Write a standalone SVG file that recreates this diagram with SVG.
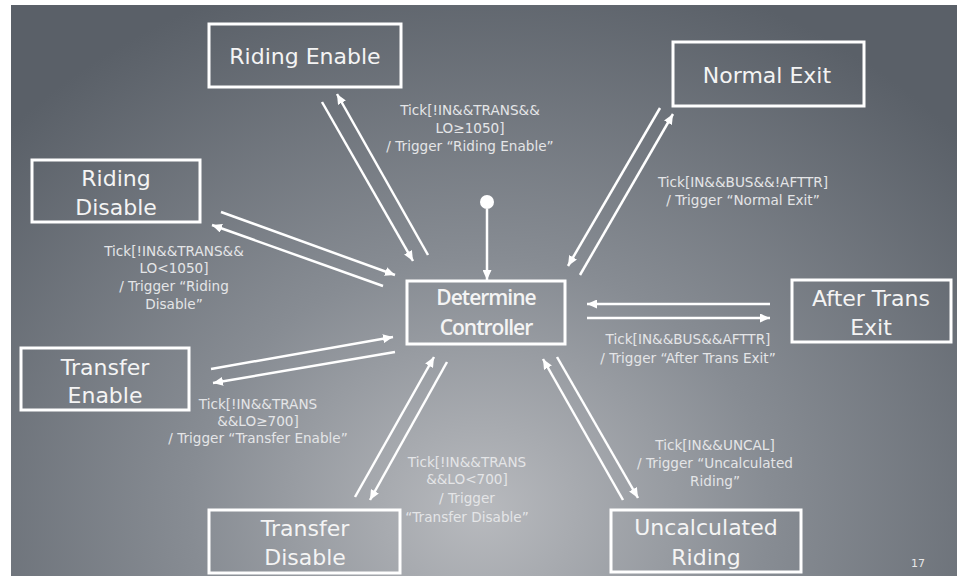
<svg xmlns="http://www.w3.org/2000/svg" width="957" height="576" viewBox="0 0 957 576">
<defs>
<radialGradient id="bg" gradientUnits="userSpaceOnUse" cx="480" cy="510" r="560" gradientTransform="translate(480 510) scale(1.15 1) translate(-480 -510)">
<stop offset="0" stop-color="#b8babe"/>
<stop offset="0.45" stop-color="#878c93"/>
<stop offset="1" stop-color="#5a6068"/>
</radialGradient>
<marker id="ah" markerUnits="userSpaceOnUse" markerWidth="11" markerHeight="9" refX="10" refY="4.5" orient="auto">
<path d="M0,0 L10,4.5 L0,9 z" fill="#ffffff"/>
</marker>
<style>
.box{fill:none;stroke:#ffffff;stroke-width:3}
.nt{font-family:"DejaVu Sans","Open Sans",sans-serif;font-size:22px;fill:#f4f4f4;text-anchor:middle}
.ct{font-family:"Open Sans","Noto Sans","DejaVu Sans",sans-serif;font-size:21px;font-weight:600;letter-spacing:-1px;fill:#f4f4f4;text-anchor:middle}
.lb{font-family:"DejaVu Sans","Open Sans",sans-serif;font-size:13.6px;fill:#e4e5e7;text-anchor:middle}
.cn line{stroke:#ffffff;stroke-width:2.5;marker-end:url(#ah)}
</style>
</defs>
<rect width="957" height="576" fill="#ffffff"/>
<rect x="11" y="5" width="946" height="571" fill="url(#bg)"/>

<g id="riding-enable"><rect class="box" x="209" y="24" width="192" height="63"/><text class="nt" x="305" y="64">Riding Enable</text></g>
<g id="riding-disable"><rect class="box" x="32" y="160" width="168" height="62"/><text class="nt" x="116" y="186">Riding</text><text class="nt" x="116" y="215">Disable</text></g>
<g id="transfer-enable"><rect class="box" x="21" y="348" width="168" height="62"/><text class="nt" x="105" y="375">Transfer</text><text class="nt" x="105" y="403">Enable</text></g>
<g id="transfer-disable"><rect class="box" x="209" y="510" width="191" height="63"/><text class="nt" x="305" y="536">Transfer</text><text class="nt" x="305" y="565">Disable</text></g>
<g id="determine-controller"><rect class="box" x="407" y="281" width="158" height="63"/><text class="ct" x="486" y="305">Determine</text><text class="ct" x="486" y="335">Controller</text></g>
<g id="normal-exit"><rect class="box" x="673" y="42" width="191" height="64"/><text class="nt" x="767" y="83">Normal Exit</text></g>
<g id="after-trans-exit"><rect class="box" x="792" y="280" width="159" height="62"/><text class="nt" x="871" y="306">After Trans</text><text class="nt" x="871" y="335">Exit</text></g>
<g id="uncalculated-riding"><rect class="box" x="611" y="510" width="190" height="62"/><text class="nt" x="706" y="535">Uncalculated</text><text class="nt" x="706" y="565">Riding</text></g>
<g id="initial"><circle cx="487" cy="202" r="7" fill="#ffffff"/></g>

<g id="connectors" class="cn">
<line x1="487" y1="209" x2="487" y2="280"/>
<line x1="322" y1="102" x2="413" y2="261"/>
<line x1="428" y1="255" x2="337" y2="94"/>
<line x1="221" y1="212" x2="395" y2="275"/>
<line x1="383" y1="286" x2="212" y2="225"/>
<line x1="211" y1="369" x2="393" y2="337"/>
<line x1="395" y1="352" x2="213" y2="383"/>
<line x1="355" y1="497" x2="434" y2="357"/>
<line x1="447" y1="362" x2="370" y2="500"/>
<line x1="623" y1="500" x2="543" y2="359"/>
<line x1="557" y1="357" x2="638" y2="498"/>
<line x1="660" y1="108" x2="568" y2="266"/>
<line x1="580" y1="275" x2="673" y2="114"/>
<line x1="770" y1="304" x2="587" y2="304"/>
<line x1="587" y1="318" x2="770" y2="318"/>
</g>

<g id="labels">
<text class="lb" x="470" y="115">Tick[!IN&amp;&amp;TRANS&amp;&amp;</text>
<text class="lb" x="470" y="133">LO≥1050]</text>
<text class="lb" x="470" y="151">/ Trigger “Riding Enable”</text>

<text class="lb" x="174" y="256">Tick[!IN&amp;&amp;TRANS&amp;&amp;</text>
<text class="lb" x="174" y="273">LO&lt;1050]</text>
<text class="lb" x="174" y="291">/ Trigger “Riding</text>
<text class="lb" x="174" y="309">Disable”</text>

<text class="lb" x="258" y="409">Tick[!IN&amp;&amp;TRANS</text>
<text class="lb" x="258" y="426">&amp;&amp;LO≥700]</text>
<text class="lb" x="258" y="443">/ Trigger “Transfer Enable”</text>

<text class="lb" x="467" y="467">Tick[!IN&amp;&amp;TRANS</text>
<text class="lb" x="467" y="484">&amp;&amp;LO&lt;700]</text>
<text class="lb" x="467" y="503">/ Trigger</text>
<text class="lb" x="467" y="522">“Transfer Disable”</text>

<text class="lb" x="743" y="187">Tick[IN&amp;&amp;BUS&amp;&amp;!AFTTR]</text>
<text class="lb" x="743" y="205">/ Trigger “Normal Exit”</text>

<text class="lb" x="688" y="344">Tick[IN&amp;&amp;BUS&amp;&amp;AFTTR]</text>
<text class="lb" x="688" y="363">/ Trigger “After Trans Exit”</text>

<text class="lb" x="715" y="450">Tick[IN&amp;&amp;UNCAL]</text>
<text class="lb" x="715" y="468">/ Trigger “Uncalculated</text>
<text class="lb" x="715" y="486">Riding”</text>

<text x="918" y="567" font-family="'DejaVu Sans',sans-serif" font-size="11px" fill="#e8e8e8" text-anchor="middle">17</text>
</g>
</svg>
